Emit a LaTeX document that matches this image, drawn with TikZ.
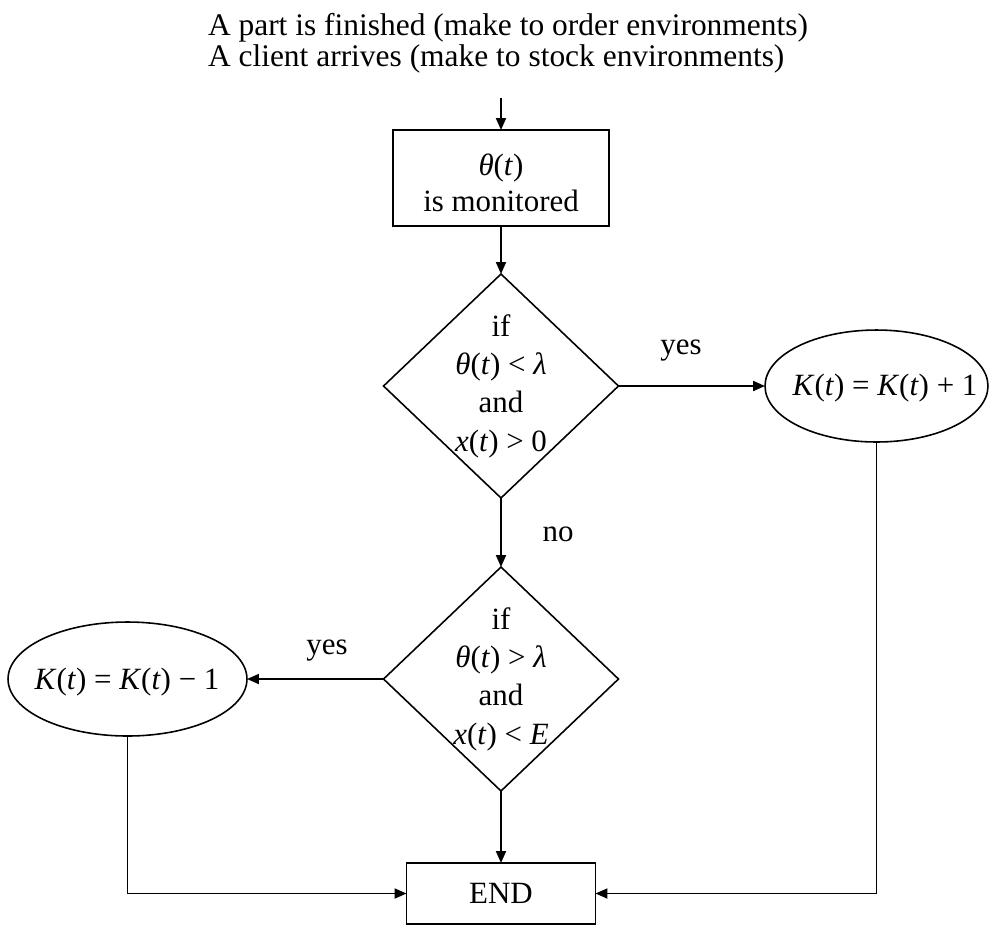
\documentclass[tikz,border=0pt]{standalone}
\usepackage{fontspec}
\setmainfont{Liberation Serif}
\usetikzlibrary{shapes.geometric,arrows.meta}
\newcommand\vi[1]{\textit{#1}}
\begin{document}
\begin{tikzpicture}[x=0.02cm,y=-0.02cm,
  every node/.style={font=\fontsize{17.6pt}{21pt}\selectfont, inner sep=0pt, outer sep=0pt},
  line/.style={line width=1.1pt, black},
  arr/.style={line, -{Triangle[length=0.24cm,width=0.2cm]}},
  boxnode/.style={draw, line width=1.1pt, rectangle},
  dianode/.style={draw, line width=0.9pt, diamond, minimum width=4.7cm, minimum height=4.48cm},
  ellnode/.style={draw, line width=0.9pt, ellipse},
  inner/.style={align=center, font=\fontsize{17.6pt}{21.8pt}\selectfont},
  toptext/.style={anchor=base west, font=\fontsize{17.9pt}{21pt}\selectfont},
  lab/.style={}
]
\useasboundingbox (0,0) rectangle (990,931);

% top text
\node[toptext] (t1) at (208,35) {A part is finished (make to order environments)};
\node[toptext] (t2) at (208,66) {A client arrives (make to stock environments)};
\coordinate (start) at (501,98);

% monitored box
\node[boxnode, minimum width=4.32cm, minimum height=1.92cm] (mon) at (501,178) {};
\node[align=center, font=\fontsize{17.6pt}{20.4pt}\selectfont] (montxt) at (501,183) {\vi{θ}(\vi{t})\\is monitored};

% first decision
\node[dianode] (d1) at (501,386) {};
\node[inner] (d1txt) at (501,386) {if\\\vi{θ}(\vi{t}) < \vi{λ}\\and\\\vi{x}(\vi{t}) > 0};

% K+1 ellipse
\node[ellnode, minimum width=4.46cm, minimum height=2.24cm] (e2) at (876.5,386) {};
\node (e2txt) at (885,388) {\vi{K}(\vi{t}) = \vi{K}(\vi{t}) + 1};

% second decision
\node[dianode] (d2) at (501,679) {};
\node[inner] (d2txt) at (501,679) {if\\\vi{θ}(\vi{t}) > \vi{λ}\\and\\\vi{x}(\vi{t}) < \vi{E}};

% K-1 ellipse
\node[ellnode, minimum width=4.78cm, minimum height=2.28cm] (e1) at (127.5,679) {};
\node (e1txt) at (127,682) {\vi{K}(\vi{t}) = \vi{K}(\vi{t}) − 1};

% END
\node[boxnode, minimum width=3.78cm, minimum height=1.22cm] (end) at (501,893.5) {END};

% labels
\node[lab] (yes1) at (681,351) {yes};
\node[lab] (no1) at (558,534) {no};
\node[lab] (yes2) at (327,651) {yes};

% connectors
\draw[arr] (start) -- (mon.north);
\draw[arr] (mon.south) -- (d1.north);
\draw[arr] (d1.east) -- (e2.west);
\draw[arr] (d1.south) -- (d2.north);
\draw[arr] (d2.west) -- (e1.east);
\draw[arr] (d2.south) -- (end.north);
\draw[arr] (e1.south) |- (end.west);
\draw[arr] (e2.south) |- (end.east);
\end{tikzpicture}
\end{document}
